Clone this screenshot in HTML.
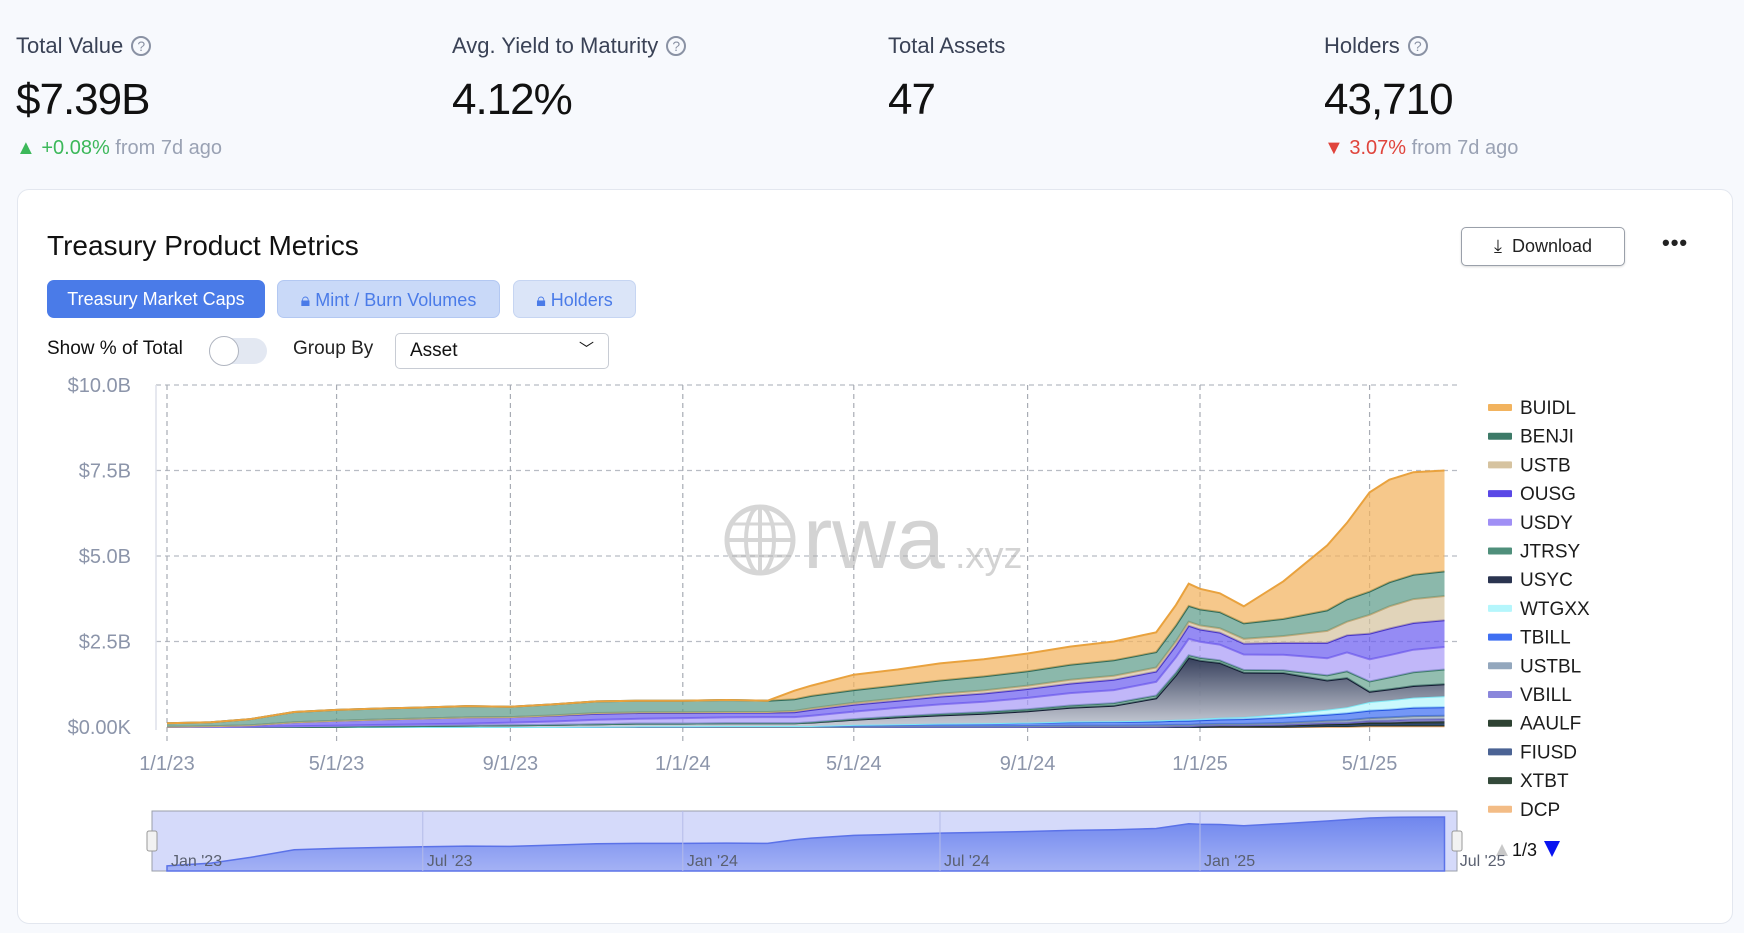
<!DOCTYPE html>
<html><head><meta charset="utf-8">
<style>
body{margin:0;width:1744px;height:933px;background:#f7f9fd;font-family:"Liberation Sans",sans-serif;position:relative;overflow:hidden}
.abs{position:absolute}
.lbl{font-size:22px;color:#3a4256;top:33px;white-space:nowrap}
.q{display:inline-block;width:20px;height:20px;border:2px solid #8a92a4;border-radius:50%;font-size:14px;text-align:center;line-height:20px;color:#8a92a4;margin-left:8px;vertical-align:2px;box-sizing:border-box;line-height:17px}
.big{font-size:44px;color:#111;top:75px;letter-spacing:-1px}
.chg{font-size:20px;top:137px;white-space:nowrap;color:#9aa2b4}
.card{left:17px;top:189px;width:1716px;height:735px;background:#fff;border:1px solid #e3e7ef;border-radius:12px;box-sizing:border-box}
.tab{top:280px;height:38px;border-radius:7px;font-size:18px;line-height:38px;text-align:center;box-sizing:border-box}
</style></head><body>
<div class="abs lbl" style="left:16px">Total Value<span class="q">?</span></div>
<div class="abs big" style="left:16px">$7.39B</div>
<div class="abs chg" style="left:16px"><span style="color:#3cb85a">▲ +0.08%</span> from 7d ago</div>
<div class="abs lbl" style="left:452px">Avg. Yield to Maturity<span class="q">?</span></div>
<div class="abs big" style="left:452px">4.12%</div>
<div class="abs lbl" style="left:888px">Total Assets</div>
<div class="abs big" style="left:888px">47</div>
<div class="abs lbl" style="left:1324px">Holders<span class="q">?</span></div>
<div class="abs big" style="left:1324px">43,710</div>
<div class="abs chg" style="left:1324px"><span style="color:#e0443c">▼ 3.07%</span> from 7d ago</div>

<div class="abs card"></div>
<div class="abs" style="left:47px;top:230px;font-size:28px;color:#111">Treasury Product Metrics</div>
<div class="abs" style="left:1461px;top:227px;width:164px;height:39px;border:1px solid #9aa0aa;border-radius:5px;box-sizing:border-box;font-size:18px;line-height:37px;text-align:center;background:#fff;color:#222;box-shadow:0 1px 2px rgba(0,0,0,.15)">⤓&nbsp; Download</div>
<div class="abs" style="left:1662px;top:230px;font-size:22px;letter-spacing:1px;color:#222;font-weight:bold">•••</div>
<div class="abs tab" style="left:47px;width:218px;background:#4a7be8;color:#fff">Treasury Market Caps</div>
<div class="abs tab" style="left:277px;width:223px;background:#c9d9f8;color:#4a7be8;border:1px solid #b3c8f2">🔒︎ Mint / Burn Volumes</div>
<div class="abs tab" style="left:513px;width:123px;background:#dbe5f8;color:#4a7be8;border:1px solid #c6d5f2">🔒︎ Holders</div>
<div class="abs" style="left:47px;top:338px;font-size:19px;color:#111">Show % of Total</div>
<div class="abs" style="left:209px;top:338px;width:58px;height:26px;border-radius:13px;background:#e3e8f2"><div style="position:absolute;left:0;top:-2px;width:30px;height:30px;border-radius:50%;background:#fff;border:1px solid #b0b5c0;box-sizing:border-box"></div></div>
<div class="abs" style="left:293px;top:338px;font-size:19px;color:#222">Group By</div>
<div class="abs" style="left:395px;top:333px;width:214px;height:36px;border:1px solid #c8ccd4;border-radius:5px;box-sizing:border-box;font-size:19px;line-height:34px;padding-left:14px;background:#fff;color:#111">Asset<span style="position:absolute;right:14px;top:-1px;font-size:15px">﹀</span></div>

<svg class="abs" style="left:0;top:0" width="1744" height="933" id="chart">
<defs>
<linearGradient id="gUSYC" x1="0" y1="0" x2="0" y2="1"><stop offset="0" stop-color="#2c3654"/><stop offset="1" stop-color="#c8ccd6"/></linearGradient>
<linearGradient id="gNav" x1="0" y1="0" x2="0" y2="1"><stop offset="0" stop-color="#6f86ee"/><stop offset="1" stop-color="#a4b2f5"/></linearGradient>
</defs>
</svg>
<script>
const dates=["2023-01-01","2023-02-01","2023-03-01","2023-04-01","2023-05-01","2023-06-01","2023-07-01","2023-08-01","2023-09-01","2023-10-01","2023-11-01","2023-12-01","2024-01-01","2024-02-01","2024-03-01","2024-03-20","2024-04-01","2024-05-01","2024-06-01","2024-07-01","2024-08-01","2024-09-01","2024-10-01","2024-11-01","2024-12-01","2024-12-15","2024-12-24","2025-01-01","2025-01-15","2025-02-01","2025-03-01","2025-04-01","2025-04-15","2025-05-01","2025-05-15","2025-06-01","2025-06-23"];
const seriesNames=["BUIDL","BENJI","USTB","OUSG","USDY","JTRSY","USYC","WTGXX","TBILL","USTBL","VBILL","AAULF","FIUSD","XTBT","DCP"];
const BUIDL=[0,0,0,0,0,0,0,0,0,0,0,0,0,0,0,.25,.3,.45,.46,.5,.5,.52,.53,.55,.58,.6,.65,.6,.55,.5,1.1,1.9,2.24,2.9,3.0,3.0,2.95];
const BENJI=[.10,.12,.18,.30,.32,.32,.32,.33,.30,.32,.34,.34,.34,.35,.33,.34,.36,.37,.38,.39,.41,.42,.44,.45,.45,.46,.46,.47,.47,.45,.5,.6,.65,.68,.7,.71,.72];
const USTB=[0,0,0,0,0,0,0,0,0,.01,.02,.02,.02,.02,.02,.04,.05,.06,.07,.08,.09,.10,.11,.12,.12,.12,.12,.12,.13,.14,.2,.35,.4,.55,.65,.7,.71];
const OUSG=[.01,.02,.04,.12,.14,.16,.17,.18,.16,.17,.18,.17,.15,.14,.13,.14,.17,.2,.21,.23,.24,.26,.28,.3,.3,.35,.38,.36,.35,.32,.35,.45,.5,.75,.78,.78,.78];
const USDY=[0,0,.01,.02,.03,.04,.05,.06,.08,.1,.13,.14,.16,.17,.18,.18,.19,.22,.25,.28,.3,.33,.36,.38,.4,.45,.48,.47,.46,.45,.45,.5,.55,.65,.65,.66,.66];
const JTRSY=[0,0,0,0,0,0,0,0,0,0,0,0,0,0,0,0,.01,.02,.03,.04,.05,.06,.07,.08,.08,.08,.08,.08,.08,.08,.08,.15,.2,.3,.35,.4,.43];
const USYC=[0,0,0,0,.01,.02,.03,.04,.05,.06,.07,.08,.08,.08,.08,.08,.1,.15,.2,.24,.28,.33,.4,.45,.65,1.3,1.8,1.7,1.6,1.3,1.2,.85,.85,.3,.32,.34,.35];
const WTGXX=[0,0,0,0,0,0,0,0,0,0,0,0,0,0,0,0,0,0,0,.01,.01,.01,.02,.02,.03,.03,.04,.04,.05,.06,.1,.15,.18,.25,.27,.3,.32];
const TBILL=[0,0,0,0,0,0,0,0,0,0,.01,.02,.02,.03,.03,.03,.03,.05,.06,.07,.08,.09,.1,.11,.11,.12,.12,.12,.13,.14,.16,.18,.2,.22,.23,.24,.25];
const USTBL=[0,0,0,0,0,0,0,0,0,0,0,0,0,0,0,0,0,.01,.02,.02,.02,.03,.03,.03,.04,.04,.04,.04,.04,.04,.05,.06,.07,.08,.09,.1,.1];
const VBILL=[0,0,0,0,0,0,0,0,0,0,0,0,0,0,0,0,0,0,0,0,0,0,0,0,0,0,0,.02,.02,.02,.03,.04,.04,.05,.06,.07,.07];
const AAULF=[0,0,0,0,0,0,0,0,0,0,0,0,0,0,0,0,0,0,0,0,0,0,.01,.01,.01,.01,.01,.01,.01,.01,.02,.03,.04,.05,.05,.06,.06];
const FIUSD=[0,0,0,0,0,0,0,0,0,0,0,0,0,0,0,0,0,0,0,0,0,0,0,0,0,.01,.01,.01,.01,.01,.01,.02,.02,.03,.03,.04,.05];
const XTBT=[0,0,0,0,0,0,0,0,0,0,0,0,0,0,0,0,0,0,0,0,0,0,0,0,0,0,0,0,.01,.01,.01,.02,.02,.03,.03,.03,.03];
const DCP=[0,0,0,0,0,0,0,0,0,0,0,0,0,0,0,0,0,0,0,0,0,0,0,0,0,0,0,0,0,0,0,.01,.01,.02,.02,.02,.02];
const yTickValues=[0,2.5,5,7.5,10];
const yTickLabels=["$0.00K","$2.5B","$5.0B","$7.5B","$10.0B"];
const xTickDates=["2023-01-01","2023-05-01","2023-09-01","2024-01-01","2024-05-01","2024-09-01","2025-01-01","2025-05-01"];
const xTickLabels=["1/1/23","5/1/23","9/1/23","1/1/24","5/1/24","9/1/24","1/1/25","5/1/25"];
const navTickDates=["2023-01-01","2023-07-01","2024-01-01","2024-07-01","2025-01-01","2025-07-01"];
const navTickLabels=["Jan '23","Jul '23","Jan '24","Jul '24","Jan '25","Jul '25"];

const fills=["#f2b35e","#5e9c8a","#d6c3a0","#6c5ef0","#a99bf7","#6aa592","url(#gUSYC)","#b5f6fc","#3f6ff2","#93a7bd","#8a86db","#2e4232","#4b6394","#33493a","#f3bc86"];
const strokes=["#e9a23e","#2f6b5a","#c3a978","#4634c9","#8a78ee","#3f7d69","#141c33","#7ee8f5","#2454e0","#7088a5","#6660c0","#1e2e22","#2e4675","#1f3326","#e8a060"];
const swatch=["#f2b35e","#3d7a68","#d6c3a0","#5a48e6","#a08ff5","#4f8f7b","#2a3450","#b5f6fc","#3f6ff2","#93a7bd","#8a86db","#2e4232","#4b6394","#33493a","#f3bc86"];
const data=[BUIDL,BENJI,USTB,OUSG,USDY,JTRSY,USYC,WTGXX,TBILL,USTBL,VBILL,AAULF,FIUSD,XTBT,DCP];

const NS="http://www.w3.org/2000/svg";
const svg=document.getElementById('chart');
const t0=Date.parse("2023-01-01");
const dayPx=1033/731;
function x(d){return 167+(Date.parse(d)-t0)/86400000*dayPx;}
function y(v){return 727-v*34.2;}
function mk(tag,attrs,parent){const e=document.createElementNS(NS,tag);for(const k in attrs)e.setAttribute(k,attrs[k]);(parent||svg).appendChild(e);return e;}

// grid
yTickValues.forEach((v,i)=>{
  if(v>0){const g=mk('line',{x1:156,x2:1457,y1:y(v),y2:y(v),stroke:'#b8bcc4','stroke-dasharray':'5,4','stroke-width':1.2});
  
  }
  const t=mk('text',{x:131,y:y(v)+7,'text-anchor':'end','font-size':20,fill:'#8c95aa'});
  t.textContent=yTickLabels[i];
  
  
});
xTickDates.forEach((d,i)=>{
  const g=mk('line',{x1:x(d),x2:x(d),y1:385,y2:742,stroke:'#a8acb4','stroke-dasharray':'5,4','stroke-width':1.2});
  
  
  const t=mk('text',{x:x(d),y:770,'text-anchor':'middle','font-size':20,fill:'#8c95aa'});
  t.textContent=xTickLabels[i];
  
  
});
const ax=mk('line',{x1:156,x2:156,y1:385,y2:730,stroke:'#dde1ea','stroke-width':1.5});



// watermark
const wm=mk('g',{opacity:0.55});


mk('circle',{cx:760,cy:540,r:33,fill:'none',stroke:'#b5b5b5','stroke-width':5},wm);
mk('ellipse',{cx:760,cy:540,rx:14,ry:33,fill:'none',stroke:'#b5b5b5','stroke-width':4},wm);
mk('line',{x1:727,x2:793,y1:540,y2:540,stroke:'#b5b5b5','stroke-width':4},wm);
mk('line',{x1:760,x2:760,y1:507,y2:573,stroke:'#b5b5b5','stroke-width':4},wm);
mk('line',{x1:732,x2:788,y1:524,y2:524,stroke:'#b5b5b5','stroke-width':3},wm);
mk('line',{x1:732,x2:788,y1:556,y2:556,stroke:'#b5b5b5','stroke-width':3},wm);
const wt=mk('text',{x:803,y:568,'font-size':88,fill:'#b0b0b0'},wm);wt.textContent='rwa';
const wt2=mk('text',{x:955,y:568,'font-size':38,fill:'#b0b0b0'},wm);wt2.textContent='.xyz';

// stack (bottom = last series)
const n=dates.length;
let cum=new Array(n).fill(0);
const layers=[];
for(let s=data.length-1;s>=0;s--){
  const base=cum.slice();
  const top=cum.map((c,i)=>c+data[s][i]);
  layers.push({s,base,top});
  cum=top;
}
const total=cum;
layers.forEach(L=>{
  let pts=[];
  for(let i=0;i<n;i++)pts.push(x(dates[i]).toFixed(1)+','+y(L.top[i]).toFixed(1));
  let bpts=[];
  for(let i=n-1;i>=0;i--)bpts.push(x(dates[i]).toFixed(1)+','+y(L.base[i]).toFixed(1));
  const p=mk('polygon',{points:pts.concat(bpts).join(' '),fill:fills[L.s],'fill-opacity':L.s===6?0.95:0.72});
  
  
  const l=mk('polyline',{points:pts.join(' '),fill:'none',stroke:strokes[L.s],'stroke-width':2});
  
  
});

// legend
seriesNames.forEach((nm,i)=>{
  const g=mk('g',{});
  
  
  const yy=407+i*28.7;
  mk('rect',{x:1488,y:yy-3,width:24,height:7,fill:swatch[i],rx:1},g);
  const t=mk('text',{x:1520,y:yy+7,'font-size':19,fill:'#1c1c1c'},g);t.textContent=nm;
});
const pg=mk('g',{});


mk('polygon',{points:'1496,856 1502,844 1508,856',fill:'#c8c8c8'},pg);
const pt=mk('text',{x:1512,y:856,'font-size':18,fill:'#111'},pg);pt.textContent='1/3';
mk('polygon',{points:'1544,841 1560,841 1552,857',fill:'#0a14f0'},pg);

// navigator
const nav=mk('g',{});


mk('rect',{x:152,y:811,width:1305,height:60,fill:'#d5dafa',stroke:'#9a9faa','stroke-width':1},nav);
function ny(v){return 867-(Math.log(Math.max(v,.1))-Math.log(.1))/(Math.log(7.5)-Math.log(.1))*50;}
let np=[];
for(let i=0;i<n;i++)np.push(x(dates[i]).toFixed(1)+','+ny(total[i]).toFixed(1));
const na=mk('polygon',{points:np.join(' ')+' '+x(dates[n-1]).toFixed(1)+',871 '+x(dates[0]).toFixed(1)+',871',fill:'url(#gNav)',stroke:'#5b72e8','stroke-width':1.5},nav);


navTickDates.forEach((d,i)=>{
  if(i>0&&i<5)mk('line',{x1:x(d),x2:x(d),y1:811,y2:871,stroke:'#b4bbe8','stroke-width':1},nav);
  const t=mk('text',{x:x(d)+4,y:866,'font-size':16,fill:'#5a6070'},nav);
  t.textContent=navTickLabels[i];
  
  
});
[152,1457].forEach(hx=>{
  const h=mk('rect',{x:hx-5,y:831,width:10,height:20,fill:'#f2f2f2',stroke:'#999',rx:2},nav);
  
  
});
</script>
</body></html>
